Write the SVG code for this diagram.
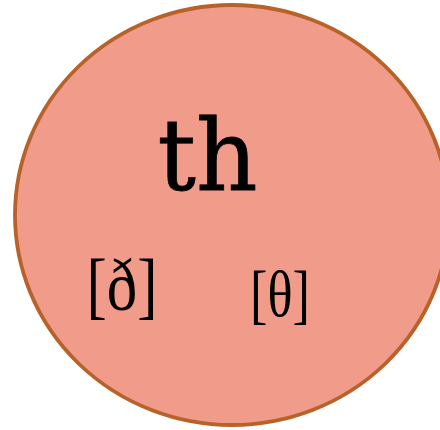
<svg xmlns="http://www.w3.org/2000/svg" width="440" height="430" viewBox="0 0 440 430">
<style>
.lbl{font-family:"Liberation Serif","DejaVu Serif",serif;fill:#000}
.big{font-family:"DejaVu Serif","Liberation Serif",serif;fill:#000;stroke:#000;stroke-width:0.8}
</style>
<rect width="440" height="430" fill="#fff"/>
<g id="node-th">
<ellipse cx="232" cy="215" rx="217" ry="210" fill="#f19b8b" stroke="#b8622a" stroke-width="3.8"/>
<text class="big" x="207.5" y="190" font-size="100" text-anchor="middle" textLength="100" lengthAdjust="spacingAndGlyphs">th</text>
<text class="lbl" transform="translate(122,310) scale(1,1.2)" font-size="62" text-anchor="middle" textLength="71" lengthAdjust="spacingAndGlyphs">[ð]</text>
<text class="lbl" transform="translate(280,315.5) scale(1,1.25)" font-size="52" text-anchor="middle" textLength="60" lengthAdjust="spacingAndGlyphs">[θ]</text>
</g>
</svg>
